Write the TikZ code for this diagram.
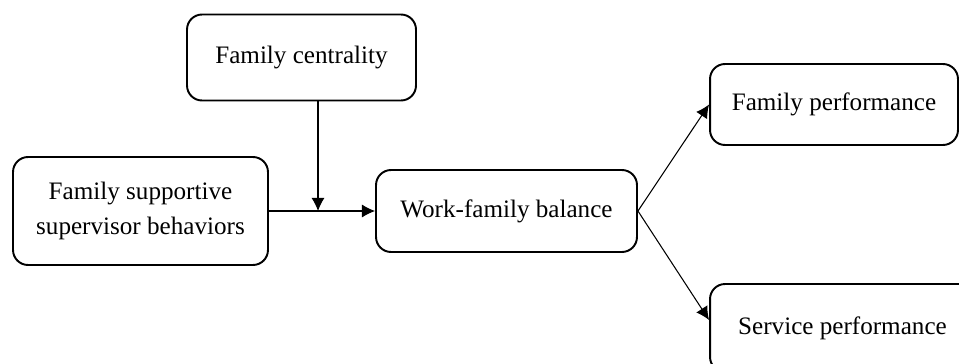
\documentclass[tikz,border=0pt]{standalone}
\usepackage{fontspec}
\setmainfont{Liberation Serif}
\usepackage{tikz}
\usetikzlibrary{arrows.meta}

\begin{document}
\begin{tikzpicture}[x=0.02cm,y=0.02cm,
box/.style={draw,line width=1.1pt,rounded corners=0.3cm,align=center,
  font=\fontsize{14.3}{20}\selectfont,inner sep=2pt},
link/.style={line width=0.6pt,-{Latex[length=7.5pt,width=7.5pt]}}
]
% The frame
\useasboundingbox (0,0) rectangle (959,363);
\clip (0,0) rectangle (959,363);

% The boxes
\node[box,minimum width=4.58cm,minimum height=1.72cm] (fc) at (301.5,305.5) {Family centrality};
\node[box,minimum width=5.10cm,minimum height=2.16cm] (fssb) at (140.5,152) {Family supportive\\supervisor behaviors};
\node[box,minimum width=5.22cm,minimum height=1.64cm] (wfb) at (506.5,152) {Work-family balance};
\node[box,minimum width=4.96cm,minimum height=1.62cm] (fp) at (834,258.5) {Family performance};
\node[box,minimum width=5.30cm,minimum height=1.76cm] (sp) at (842.5,35) {Service performance};

% The links
\coordinate (mod) at (318,152);
\draw[link] (fssb.east) -- (wfb.west);
\draw[link] (fc.south -| mod) -- (mod);
\draw[link] (wfb.east) -- (fp.west);
\draw[link] (wfb.east) -- ([yshift=0.16cm]sp.west);
\end{tikzpicture}
\end{document}
